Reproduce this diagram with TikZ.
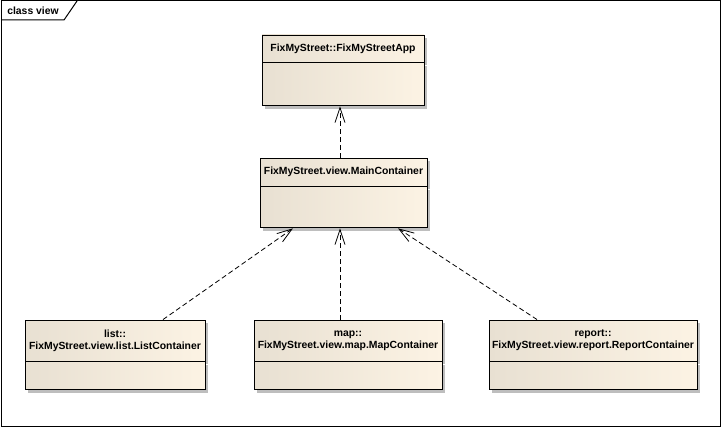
\documentclass[tikz,border=0pt]{standalone}
\usepackage{fontspec}
\setmainfont{Liberation Sans}
\usetikzlibrary{positioning,shadows,arrows.meta}
\definecolor{classleft}{RGB}{232,224,210}
\definecolor{classright}{RGB}{252,243,228}
\definecolor{shadowgray}{RGB}{190,190,190}
\tikzset{
  classpart/.style={draw,rectangle,line width=0.9pt,inner sep=0pt,align=center,
    left color=classleft,right color=classright,
    drop shadow={shadow xshift=3pt,shadow yshift=-3pt,fill=shadowgray,opacity=1},
    font=\fontsize{10.4}{12}\selectfont\bfseries},
  dep/.style={draw,line width=0.8pt,dash pattern=on 5pt off 3pt,
    -{Straight Barb[length=15pt,width=10pt]}}
}
\begin{document}
\begin{tikzpicture}[x=1pt,y=-1pt]
  \useasboundingbox (0,0) rectangle (722,428);
  % frame
  \draw[line width=1pt] (1,1) rectangle (720,426);
  \draw[line width=1pt] (1,20) -- (64,20) -- (77,1);
  \node (frametitle) at (33,11) [font=\fontsize{10.4}{12}\selectfont\bfseries] {class view};
  % classes
  \node (apphead) at (343,48.5) [classpart,minimum width=162,minimum height=27] {FixMyStreet::FixMyStreetApp};
  \node (app) [classpart,minimum width=162,minimum height=43,below=0pt of apphead] {};
  \node (mainhead) at (343.5,172) [classpart,minimum width=167,minimum height=28] {FixMyStreet.view.MainContainer};
  \node (main) [classpart,minimum width=167,minimum height=41,below=0pt of mainhead] {};
  \node (listhead) at (115,340.5) [classpart,minimum width=180,minimum height=41] {list::\\FixMyStreet.view.list.ListContainer};
  \node (list) [classpart,minimum width=180,minimum height=28,below=0pt of listhead] {};
  \node (maphead) at (348,340.5) [classpart,minimum width=188,minimum height=41] {map::\\FixMyStreet.view.map.MapContainer};
  \node (map) [classpart,minimum width=188,minimum height=28,below=0pt of maphead] {};
  \node (reporthead) at (593,340.5) [classpart,minimum width=208,minimum height=41] {report::\\FixMyStreet.view.report.ReportContainer};
  \node (report) [classpart,minimum width=208,minimum height=28,below=0pt of reporthead] {};
  % dependencies
  \draw[dep] ([xshift=-3.5pt]mainhead.north) to ([xshift=-3pt]app.south);
  \draw[dep] ([xshift=48pt]listhead.north) to ([xshift=-50.5pt]main.south);
  \draw[dep] ([xshift=-8pt]maphead.north) to ([xshift=-3.5pt]main.south);
  \draw[dep] ([xshift=-56pt]reporthead.north) to ([xshift=54.5pt]main.south);
\end{tikzpicture}
\end{document}
